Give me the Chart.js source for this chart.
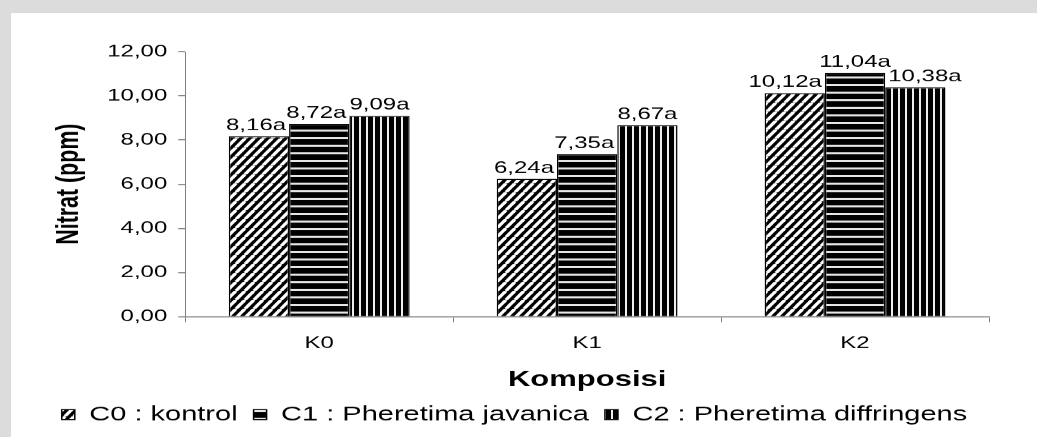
<!DOCTYPE html>
<html>
<head>
<meta charset="utf-8">
<script src="https://cdn.jsdelivr.net/npm/chart.js@4/dist/chart.umd.min.js"></script>
<style>
    html, body { margin: 0; padding: 0; }
    body { width: 1037px; height: 437px; background: #dcdcdc; overflow: hidden; position: relative; }
    #box { position: absolute; left: 11px; top: 13px; width: 1026px; height: 424px; background: #fff; overflow: hidden; }
    /* the original figure is squashed vertically, so draw tall and scale down */
    #nitratChart { transform: scaleY(0.6894); transform-origin: 0 0; }
</style>
</head>
<body>
<div id="box"><canvas id="nitratChart" width="1026" height="615"></canvas></div>
<script>
const categories = ["K0", "K1", "K2"];
const seriesNames = ["C0 : kontrol", "C1 : Pheretima javanica", "C2 : Pheretima diffringens"];
const c0Values = [8.16, 6.24, 10.12];
const c1Values = [8.72, 7.35, 11.04];
const c2Values = [9.09, 8.67, 10.38];
const notasi = [["a", "a", "a"], ["a", "a", "a"], ["a", "a", "a"]];
const yTicks = [0, 2, 4, 6, 8, 10, 12];

const fontFamily = "'Liberation Sans', Arial, sans-serif";
const axisGray = "#808080";

function fmt(v) {
    return v.toFixed(2).replace(".", ",");
}

// hatch fills like the old excel patterns (black with white stripes)
function hatch(kind) {
    const c = document.createElement("canvas");
    const g = c.getContext("2d");
    if (kind === "diag") {
        c.width = 9; c.height = 13;
        g.fillStyle = "#000";
        g.fillRect(0, 0, 9, 13);
        g.strokeStyle = "#fff";
        g.lineWidth = 3.7;
        [-9, 0, 9].forEach(function (dx) {
            g.beginPath();
            g.moveTo(dx, 13);
            g.lineTo(dx + 9, 0);
            g.stroke();
        });
    } else if (kind === "horiz") {
        c.width = 4; c.height = 11;
        g.fillStyle = "#000";
        g.fillRect(0, 0, 4, 11);
        g.fillStyle = "#e6e6e6";
        g.fillRect(0, 4, 4, 3);
    } else {
        c.width = 7; c.height = 4;
        g.fillStyle = "#000";
        g.fillRect(0, 0, 7, 4);
        g.fillStyle = "#eeeeee";
        g.fillRect(5, 0, 2, 4);
    }
    return g.createPattern(c, "repeat");
}

// value labels above bars; a label is pushed sideways when a taller neighbour bar is in the way
const barLabels = {
    id: "barLabels",
    afterDatasetsDraw(chart) {
        const ctx = chart.ctx;
        const n = chart.data.datasets.length;
        ctx.save();
        ctx.font = "24px " + fontFamily;
        ctx.fillStyle = "#000";
        ctx.textAlign = "center";
        ctx.textBaseline = "alphabetic";
        chart.data.datasets.forEach(function (ds, i) {
            chart.getDatasetMeta(i).data.forEach(function (bar, j) {
                const text = fmt(ds.data[j]) + notasi[i][j];
                const w = ctx.measureText(text).width;
                const base = bar.y - 9;
                let x = bar.x;
                if (i + 1 < n) {
                    const nb = chart.getDatasetMeta(i + 1).data[j];
                    const edge = nb.x - nb.width / 2 - 3;
                    if (nb.y < base && x + w / 2 > edge) x = edge - w / 2;
                }
                if (i > 0) {
                    const pb = chart.getDatasetMeta(i - 1).data[j];
                    const edge = pb.x + pb.width / 2 + 3;
                    if (pb.y < base && x - w / 2 < edge) x = edge + w / 2;
                }
                ctx.fillText(text, x, base);
            });
        });
        ctx.restore();
    },
};

Chart.defaults.font.family = fontFamily;
Chart.defaults.color = "#000";

const fills = [hatch("diag"), hatch("horiz"), hatch("vert")];
const values = [c0Values, c1Values, c2Values];

new Chart(document.getElementById("nitratChart"), {
    type: "bar",
    data: {
        labels: categories,
        datasets: seriesNames.map(function (name, i) {
            return {
                label: name,
                data: values[i],
                backgroundColor: fills[i],
                borderColor: "#000",
                borderWidth: 1.5,
                barPercentage: 1,
                categoryPercentage: 0.675,
            };
        }),
    },
    options: {
        responsive: false,
        devicePixelRatio: 1,
        animation: false,
        layout: {
            padding: { left: 29, right: 48, top: 56, bottom: 8 },
        },
        scales: {
            x: {
                grid: { drawOnChartArea: false, tickLength: 8, color: axisGray, lineWidth: 1 },
                border: { color: axisGray, width: 1.5 },
                ticks: { font: { size: 24 }, padding: 16.7, color: "#000" },
                title: {
                    display: true,
                    text: "Komposisi",
                    font: { size: 31, weight: "bold" },
                    padding: { top: 3.2, bottom: 0.9 },
                },
            },
            y: {
                min: 0,
                max: 12,
                afterBuildTicks: function (axis) {
                    axis.ticks = yTicks.map(function (v) { return { value: v }; });
                },
                grid: { drawOnChartArea: false, tickLength: 7, color: axisGray, lineWidth: 1.5 },
                border: { color: axisGray, width: 1 },
                ticks: {
                    font: { size: 24 },
                    padding: 11,
                    color: "#000",
                    callback: function (v) { return fmt(v); },
                },
                title: {
                    display: true,
                    text: "Nitrat (ppm)",
                    font: { size: 31, weight: "bold" },
                    padding: { top: 11, bottom: 8 },
                },
            },
        },
        plugins: {
            legend: {
                position: "bottom",
                labels: {
                    boxWidth: 13,
                    boxHeight: 14.5,
                    padding: 16,
                    font: { size: 29 },
                    color: "#000",
                },
            },
            tooltip: { enabled: false },
        },
    },
    plugins: [barLabels],
});
</script>
</body>
</html>
